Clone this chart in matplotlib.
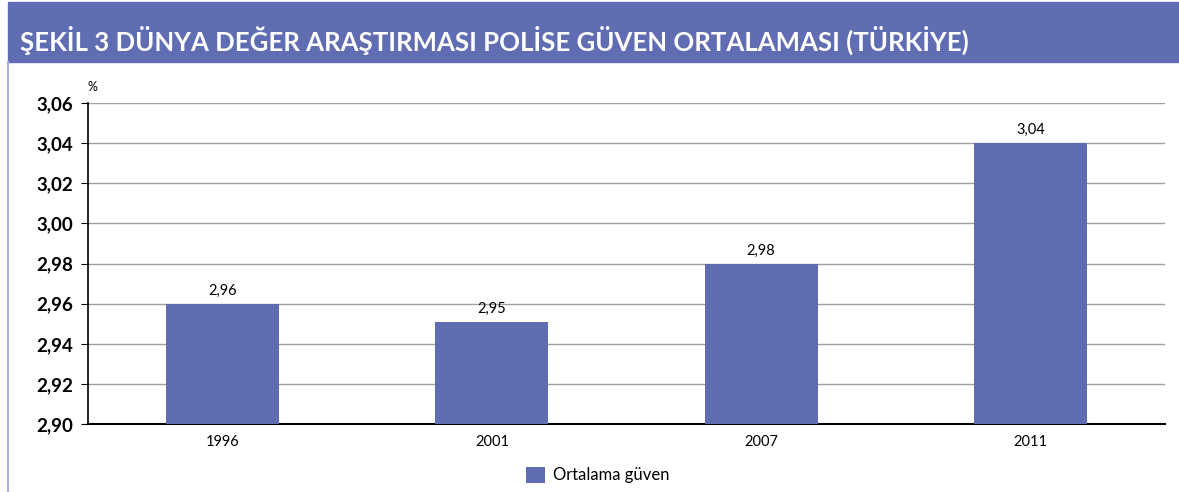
import numpy as np
import matplotlib
matplotlib.use('Agg')
import matplotlib.pyplot as plt
from matplotlib.ticker import FuncFormatter
from matplotlib.patches import Rectangle
from matplotlib.lines import Line2D

years = ['1996', '2001', '2007', '2011']
trust = [2.96, 2.951, 2.98, 3.04]
trust_labels = ['2,96', '2,95', '2,98', '3,04']
yticks = [2.90, 2.92, 2.94, 2.96, 2.98, 3.00, 3.02, 3.04, 3.06]

title = 'ŞEKİL 3 DÜNYA DEĞER ARAŞTIRMASI POLİSE GÜVEN ORTALAMASI (TÜRKİYE)'
legend_label = 'Ortalama güven'

purple = '#606db3'
plt.rcParams['font.family'] = ['Lato', 'DejaVu Sans']

fig = plt.figure(figsize=(11.79, 4.92), dpi=100)

# title banner + left border
fig.patches.append(Rectangle((8/1179, 1-62/492), 1, 60/492, transform=fig.transFigure,
                             color=purple, zorder=0))
fig.lines.append(Line2D([8/1179, 8/1179], [0, 1-62/492], transform=fig.transFigure,
                        color='#a9b0dc', lw=1.5))
fig.text(20/1179, 1-40/492, title, color='white', fontsize=18.5, fontweight='bold',
         va='center', ha='left')

ax = fig.add_axes([88/1179, 1-424/492, 1077/1179, 321/492])
x = np.arange(len(years))
bars = ax.bar(x, trust, width=0.42, color=purple, zorder=3, label=legend_label)
ax.set_xlim(-0.5, len(years)-0.5)
ax.set_ylim(2.90, 3.06)
ax.set_yticks(yticks)
ax.yaxis.set_major_formatter(FuncFormatter(lambda v, p: f'{v:.2f}'.replace('.', ',')))
ax.set_xticks(x)
ax.set_xticklabels(years, fontsize=10.5)
ax.tick_params(axis='x', length=0, pad=8)
ax.tick_params(axis='y', length=5, labelsize=13.5, pad=6)
for lab in ax.get_yticklabels():
    lab.set_fontweight('bold')
ax.yaxis.grid(True, color='#a0a0a0', lw=1, zorder=0)
ax.spines['top'].set_visible(False)
ax.spines['right'].set_visible(False)
ax.spines['left'].set_linewidth(1.2)
ax.spines['bottom'].set_linewidth(1.5)

for xi, v, lab in zip(x, trust, trust_labels):
    ax.text(xi, v + 0.003, lab, ha='center', va='bottom', fontsize=10.5)

ax.text(-0.5, 3.065, '%', fontsize=9, ha='left', va='bottom')

fig.legend(loc='center', bbox_to_anchor=(598/1179, 1-475/492), frameon=False,
           fontsize=12, handlelength=1.1, handleheight=1.1, handletextpad=0.5)

fig.savefig('out.png', dpi=100)
